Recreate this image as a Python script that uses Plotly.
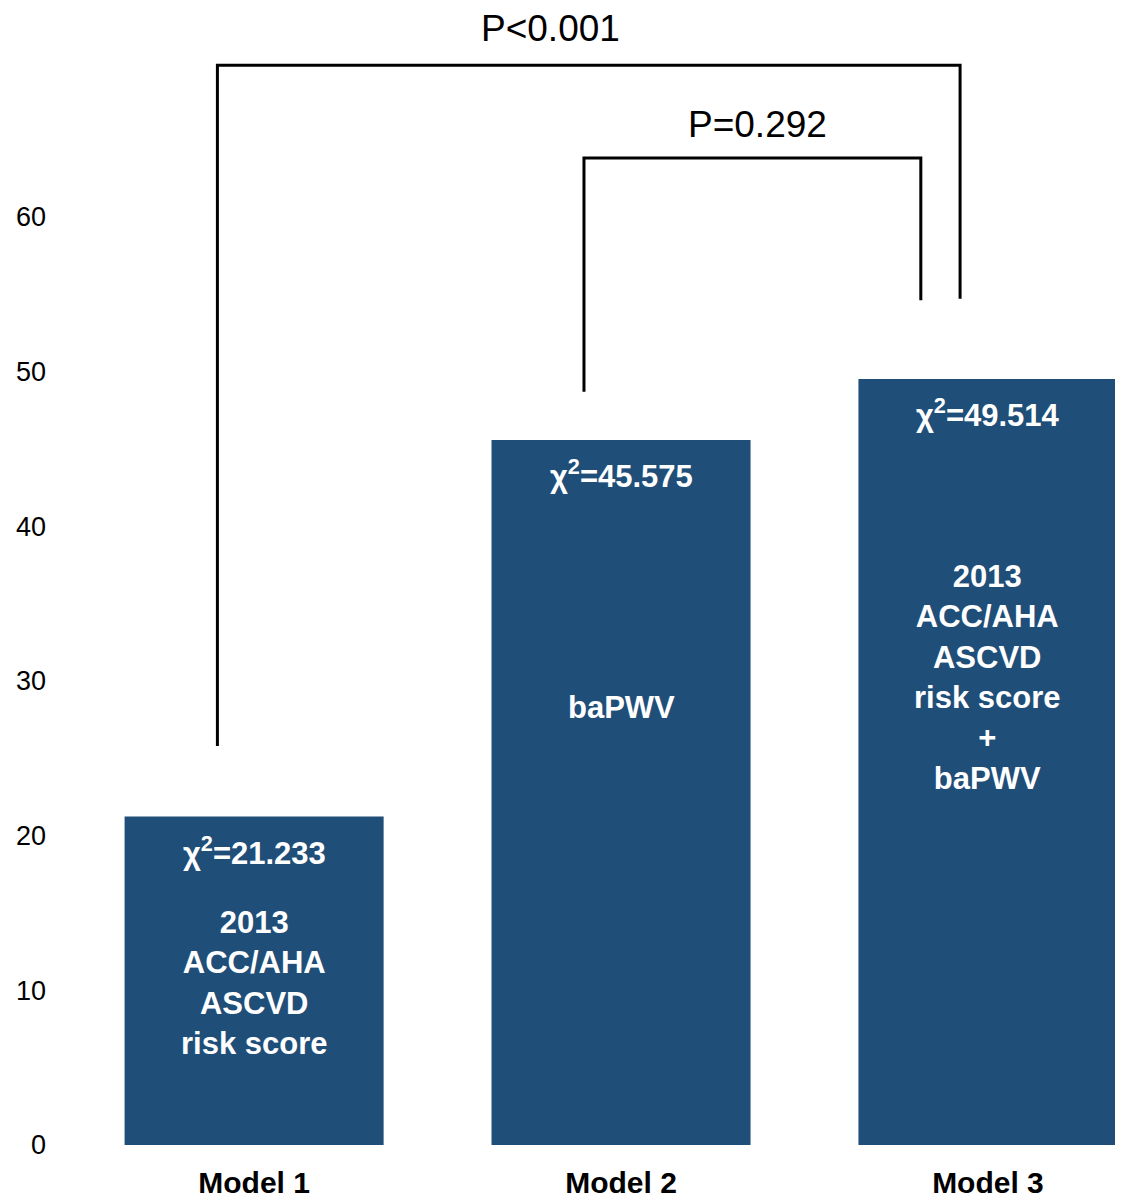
import plotly.graph_objects as go

categories = ["Model 1", "Model 2", "Model 3"]
chi_values = [21.233, 45.575, 49.514]
chi_labels = ["χ<sup>2</sup>=21.233", "χ<sup>2</sup>=45.575", "χ<sup>2</sup>=49.514"]
desc_labels = ["2013<br>ACC/AHA<br>ASCVD<br>risk score",
               "baPWV",
               "2013<br>ACC/AHA<br>ASCVD<br>risk score<br>+<br>baPWV"]
desc_y = [10.5, 28.25, 30.25]
y_ticks = [0, 10, 20, 30, 40, 50, 60]

# brackets: (left idx, right idx, left x offset, right x offset, left bottom, right bottom, top, label, label x shift, label y gap)
brackets = [
    (0, 2, -0.10, -0.076, 25.8, 54.7, 69.8, "P<0.001", -0.105, 2.4),
    (1, 2, -0.101, -0.183, 48.7, 54.6, 63.8, "P=0.292", 0.013, 2.15),
]

BAR = "#1F4E79"
FONT = "Liberation Sans, Arial, sans-serif"

fig = go.Figure()
fig.add_trace(go.Bar(x=list(range(3)), y=chi_values, width=0.706,
                     marker=dict(color=BAR, line=dict(width=0)), hoverinfo="skip"))

for i, (lab, v) in enumerate(zip(chi_labels, chi_values)):
    fig.add_annotation(x=i, y=v - 2.2, text=lab, showarrow=False,
                       font=dict(family=FONT, size=31, color="white", weight="bold"),
                       xanchor="center", yanchor="middle")
    fig.add_annotation(x=i, y=desc_y[i], text=desc_labels[i], showarrow=False,
                       font=dict(family=FONT, size=31, color="white", weight="bold"),
                       xanchor="center", yanchor="middle")

for li, ri, lo, ro, lb, rb, top, lab, shift, gap in brackets:
    xl = li + lo
    xr = ri + ro
    fig.add_trace(go.Scatter(x=[xl, xl, xr, xr], y=[lb, top, top, rb], mode="lines",
                             line=dict(color="black", width=3), hoverinfo="skip"))
    fig.add_annotation(x=(xl + xr) / 2 + shift, y=top + gap, text=lab, showarrow=False,
                       font=dict(family=FONT, size=37, color="black"),
                       xanchor="center", yanchor="middle")

fig.update_layout(
    width=1115, height=1188,
    margin=dict(l=52, r=0, t=0, b=51),
    plot_bgcolor="white", paper_bgcolor="white",
    showlegend=False,
    xaxis=dict(range=[-0.529, 2.368], tickvals=list(range(3)), ticktext=categories,
               showgrid=False, zeroline=False, showline=False, ticks="",
               automargin=False,
               tickfont=dict(family=FONT, size=30, color="black", weight="bold"),
               ticklabelstandoff=17),
    yaxis=dict(range=[0, 73.5], tickvals=y_ticks, showgrid=False, zeroline=False,
               showline=False, ticks="", automargin=False,
               tickfont=dict(family=FONT, size=27, color="black"),
               ticklabelstandoff=13),
)

fig.write_html("out.html")
